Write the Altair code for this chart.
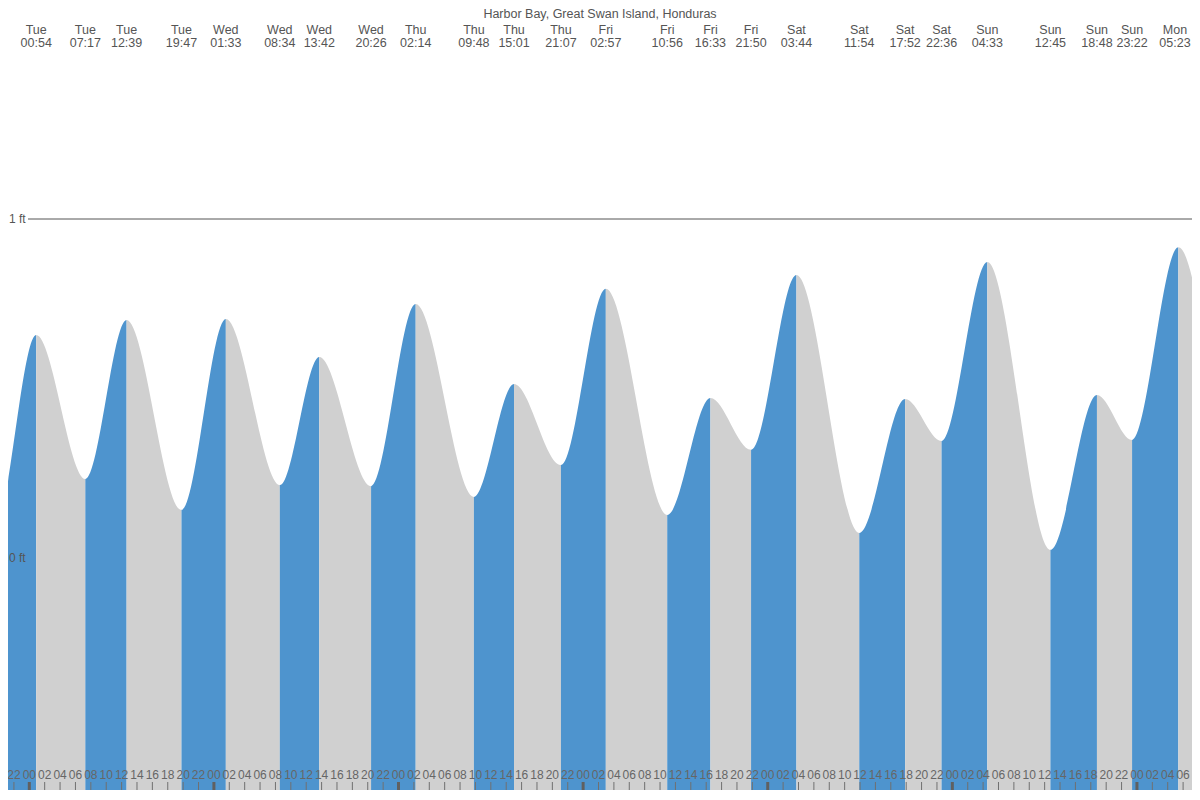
import altair as alt
import pandas as pd

TITLE = "Harbor Bay, Great Swan Island, Honduras"

# tide extremes; day offset is relative to Tuesday 00:00
ext_day = ["Mon", "Mon", "Tue", "Tue", "Tue", "Tue", "Wed", "Wed", "Wed", "Wed",
           "Thu", "Thu", "Thu", "Thu", "Fri", "Fri", "Fri", "Fri",
           "Sat", "Sat", "Sat", "Sat", "Sun", "Sun", "Sun", "Sun", "Mon", "Mon", "Mon"]
ext_dayoff = [-1, -1, 0, 0, 0, 0, 1, 1, 1, 1, 2, 2, 2, 2, 3, 3, 3, 3,
              4, 4, 4, 4, 5, 5, 5, 5, 6, 6, 6]
ext_time = ["12:40", "19:29", "00:54", "07:17", "12:39", "19:47", "01:33", "08:34", "13:42", "20:26",
            "02:14", "09:48", "15:01", "21:07", "02:57", "10:56", "16:33", "21:50",
            "03:44", "11:54", "17:52", "22:36", "04:33", "12:45", "18:48", "23:22",
            "05:23", "14:40", "20:30"]
ext_height = [0.62, 0.085, 0.658, 0.233, 0.702, 0.142, 0.705, 0.215, 0.593, 0.212,
              0.749, 0.180, 0.513, 0.274, 0.794, 0.127, 0.472, 0.319,
              0.835, 0.074, 0.469, 0.345, 0.873, 0.024, 0.481, 0.348,
              0.917, -0.02, 0.48]

# bottom hour ticks (hours from Tuesday 00:00)
tick_hours = list(range(-2, 151, 2))

W, H = 1184, 782
# axis extents (aligned with the reference's pixel positions)
PX_PER_H = 7.692
X_MID = 29.3          # Tuesday 00:00
Y_ZERO, PX_PER_FT = 558.0, 339.0
X0 = (8 - X_MID) / PX_PER_H
X1 = (8 + W - X_MID) / PX_PER_H
Y1 = (Y_ZERO - 8) / PX_PER_FT
Y0 = (Y_ZERO - 8 - H) / PX_PER_FT

FONT = "Liberation Sans"
BLUE = "#4e94ce"
GREY = "#d0d0d0"
TXT = "#555555"

hours = [d * 24 + int(t[:2]) + int(t[3:]) / 60 for d, t in zip(ext_dayoff, ext_time)]
ext = pd.DataFrame({"hour": hours, "height": ext_height, "day": ext_day, "time": ext_time})

seg = pd.DataFrame({
    "start": hours[:-1],
    "end": hours[1:],
    "dir": ["rise" if ext_height[i + 1] > ext_height[i] else "fall" for i in range(len(hours) - 1)],
})

lab = ext[(ext["hour"] > X0) & (ext["hour"] < X1)].reset_index(drop=True)
# keep labels near the right edge inside the picture
lab["lx"] = lab["hour"].clip(upper=X1 - 17 / PX_PER_H)

ticks = pd.DataFrame({
    "hour": tick_hours,
    "label": ["%02d" % (h % 24) for h in tick_hours],
    "major": [h % 24 == 0 for h in tick_hours],
})

ft = pd.DataFrame({"v": [1.0, 0.0], "label": ["1 ft", "0 ft"]})

xs = alt.Scale(domain=[X0, X1], nice=False, zero=False)
ys = alt.Scale(domain=[Y0, Y1], nice=False, zero=False)

bands = alt.Chart(seg).mark_rect(clip=True).encode(
    x=alt.X("start:Q", scale=xs, axis=None),
    x2="end:Q",
    y=alt.Y(datum=Y0, scale=ys, axis=None),
    y2=alt.Y2(datum=Y1),
    color=alt.Color("dir:N", scale=alt.Scale(domain=["rise", "fall"], range=[BLUE, GREY]), legend=None),
)

sky = alt.Chart(ext).mark_area(interpolate="monotone", color="white", clip=True).encode(
    x=alt.X("hour:Q", scale=xs, axis=None),
    y=alt.Y("height:Q", scale=ys, axis=None),
    y2=alt.Y2(datum=Y1),
)

rule1 = alt.Chart(pd.DataFrame({"v": [1.0]})).mark_rule(color="#555555", strokeWidth=1).encode(
    x=alt.X(datum=-0.17, scale=xs, axis=None),
    x2=alt.X2(datum=X1),
    y=alt.Y("v:Q", scale=ys, axis=None),
)

ft_text = alt.Chart(ft).mark_text(align="left", baseline="middle", font=FONT, fontSize=12,
                                  color=TXT, dx=1).encode(
    x=alt.X(datum=X0, scale=xs, axis=None),
    y=alt.Y("v:Q", scale=ys, axis=None),
    text="label:N",
)

title = alt.Chart(pd.DataFrame({"t": [TITLE]})).mark_text(
    align="center", baseline="top", font=FONT, fontSize=12.5, color=TXT
).encode(x=alt.value(592), y=alt.value(0), text="t:N")

day_text = alt.Chart(lab).mark_text(align="center", baseline="alphabetic", font=FONT,
                                    fontSize=12.5, color=TXT).encode(
    x=alt.X("lx:Q", scale=xs, axis=None), y=alt.value(26), text="day:N")

time_text = alt.Chart(lab).mark_text(align="center", baseline="alphabetic", font=FONT,
                                     fontSize=12.5, color=TXT).encode(
    x=alt.X("lx:Q", scale=xs, axis=None), y=alt.value(39), text="time:N")

tick_marks = alt.Chart(ticks).mark_rule().encode(
    x=alt.X("hour:Q", scale=xs, axis=None),
    y=alt.value(H - 8),
    y2=alt.value(H),
    strokeWidth=alt.condition("datum.major", alt.value(3), alt.value(1)),
    color=alt.condition("datum.major", alt.value("#606060"), alt.value("#707070")),
)

tick_text = alt.Chart(ticks).mark_text(align="center", baseline="middle", font=FONT,
                                       fontSize=12, color="#666666").encode(
    x=alt.X("hour:Q", scale=xs, axis=None), y=alt.value(H - 15), text="label:N")

chart = alt.layer(bands, sky, rule1, ft_text, title, day_text, time_text, tick_marks, tick_text).properties(
    width=W, height=H, padding=0, autosize=alt.AutoSizeParams(type="none"), background="white"
).configure_view(stroke=None)

chart.save("out.html", embed_options={"renderer": "svg", "actions": False})
